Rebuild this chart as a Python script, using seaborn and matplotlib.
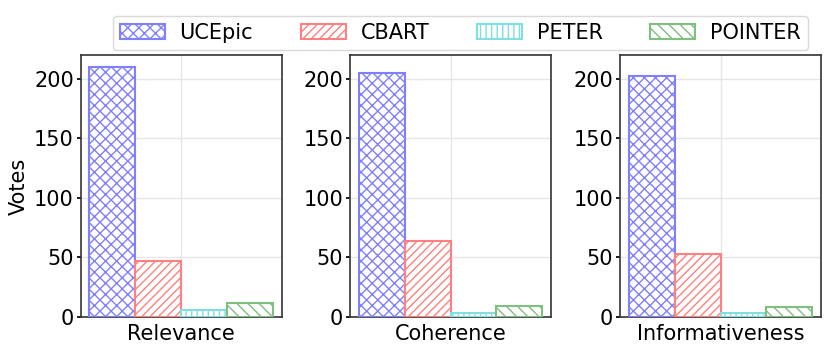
import matplotlib.pyplot as plt
import numpy as np
import pandas as pd
import seaborn as sns

aspects = ['Relevance', 'Coherence', 'Informativeness']
models = ['UCEpic', 'CBART', 'PETER', 'POINTER']
ucepic = [210, 205, 202]
cbart = [47, 64, 53]
peter = [6, 3, 3]
pointer = [12, 9, 8]

colors = ['#8080ff', '#ff8080', '#80dfdf', '#80bf80']
hatches = ['xxx', '////', '|||', '\\\\\\']

rows = []
for i, a in enumerate(aspects):
    for m, vals in zip(models, [ucepic, cbart, peter, pointer]):
        rows.append({'aspect': a, 'model': m, 'votes': vals[i]})
df = pd.DataFrame(rows)

sns.set_theme(style='white')
plt.rcParams['font.family'] = ['DejaVu Sans']
plt.rcParams['hatch.linewidth'] = 1.0
plt.rcParams['text.color'] = 'black'
plt.rcParams['axes.labelcolor'] = 'black'
plt.rcParams['xtick.color'] = 'black'
plt.rcParams['ytick.color'] = 'black'

fig = plt.figure(figsize=(8.31, 3.52), dpi=100)
lefts = [80.7, 350, 620]
for k, a in enumerate(aspects):
    ax = fig.add_axes([lefts[k] / 831, 35 / 352, 201 / 831, 262 / 352])
    sub = df[df['aspect'] == a]
    sns.barplot(data=sub, x='aspect', y='votes', hue='model', hue_order=models,
                palette=colors, fill=False, width=0.915, linewidth=1.5,
                ax=ax, legend=False, zorder=3)
    for j, bar in enumerate(ax.patches):
        bar.set_hatch(hatches[j % 4])
        bar.set_edgecolor(colors[j % 4])
        bar.set_facecolor('white')
    ax.set_xlim(-0.5, 0.5)
    ax.set_ylim(0, 220)
    ax.set_yticks([0, 50, 100, 150, 200])
    ax.grid(True, color='#e6e6e6', linewidth=1, zorder=0)
    ax.set_axisbelow(True)
    ax.set_xlabel('')
    ax.set_ylabel('Votes' if k == 0 else '', fontsize=15, labelpad=4)
    ax.tick_params(axis='both', labelsize=15, length=3, direction='out',
                   left=True, bottom=False, pad=2)
    for s in ax.spines.values():
        s.set_color('#333333')
        s.set_linewidth(1.2)

handles = [plt.Rectangle((0, 0), 1, 1, facecolor='white', edgecolor=c, hatch=h, linewidth=1.5)
           for c, h in zip(colors, hatches)]
fig.legend(handles, models, loc='upper center', bbox_to_anchor=(0.554, 0.985), ncol=4,
           fontsize=15, frameon=True, edgecolor='#d0d0d0', handlelength=2.15,
           handletextpad=0.7, columnspacing=2.3, borderpad=0.35)

fig.savefig('out.png', dpi=100)
